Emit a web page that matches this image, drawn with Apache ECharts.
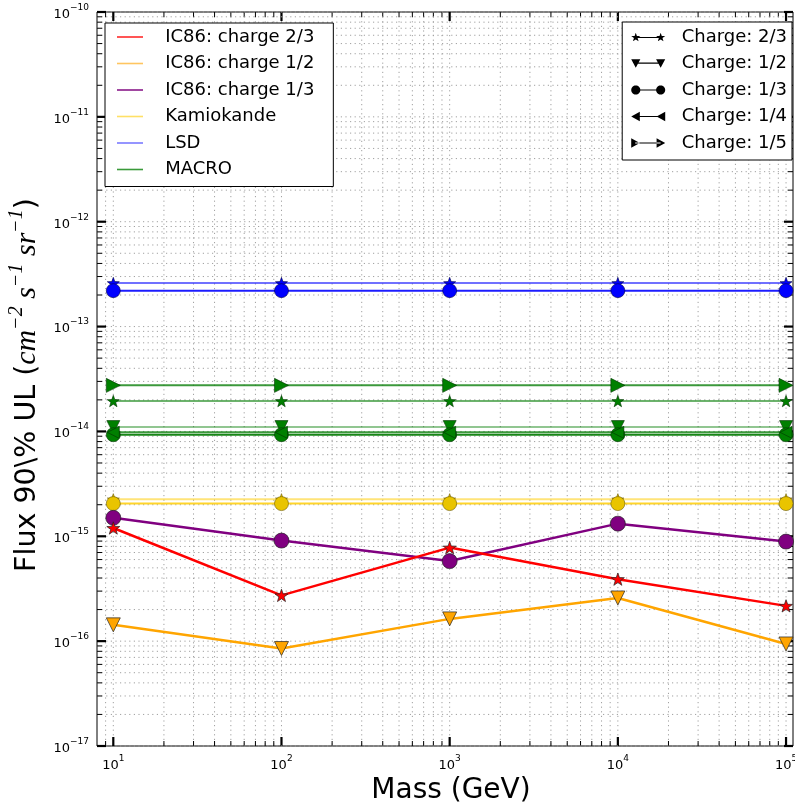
<!DOCTYPE html>
<html>
<head>
<meta charset="utf-8">
<script src="https://cdn.jsdelivr.net/npm/echarts@6/dist/echarts.min.js"></script>
<style>
  html, body { margin: 0; padding: 0; background: #fff; }
  #chart { width: 795px; height: 802px; }
</style>
</head>
<body>
<div id="chart"></div>
<script>
// Monopole-like mass points (GeV)
const MASS = [10, 100, 1000, 10000, 100000];

// IC86 90% upper limits per mass point
const IC86_CHARGE_2_3 = [1.2e-15, 2.73e-16, 7.8e-16, 3.9e-16, 2.17e-16];
const IC86_CHARGE_1_2 = [1.43e-16, 8.5e-17, 1.63e-16, 2.58e-16, 9.4e-17];
const IC86_CHARGE_1_3 = [1.5e-15, 9.1e-16, 5.8e-16, 1.32e-15, 8.9e-16];

// Mass-independent limits of earlier experiments
const KAMIOKANDE_CHARGES = ['2/3', '1/3'];
const KAMIOKANDE_FLUX = [2.25e-15, 2.05e-15];
const LSD_CHARGES = ['2/3', '1/3'];
const LSD_FLUX = [2.6e-13, 2.2e-13];
const MACRO_CHARGES = ['2/3', '1/2', '1/3', '1/4', '1/5'];
const MACRO_FLUX = [1.95e-14, 1.1e-14, 9.3e-15, 9.8e-15, 2.75e-14];

// Legend labels
const CHARGE_LABELS = ['2/3', '1/2', '1/3', '1/4', '1/5'];

// Axis ranges
const X_MIN = 8, X_MAX = 1.1e5;
const Y_MIN = 1e-17, Y_MAX = 1e-10;

// ---- marker shapes -------------------------------------------------------
function starPoints(cx, cy, ro, ri) {
  const pts = [];
  for (let i = 0; i < 10; i++) {
    const r = i % 2 === 0 ? ro : ri;
    const a = -Math.PI / 2 + i * Math.PI / 5;
    pts.push([cx + r * Math.cos(a), cy + r * Math.sin(a)]);
  }
  return pts;
}
function circlePoints(cx, cy, r) {
  const pts = [];
  for (let i = 0; i < 24; i++) {
    const a = i * Math.PI * 2 / 24;
    pts.push([cx + r * Math.cos(a), cy + r * Math.sin(a)]);
  }
  return pts;
}
function poly(pts) {
  return 'M' + pts.map(p => p[0].toFixed(2) + ',' + p[1].toFixed(2)).join('L') + 'Z';
}
const STAR = 'path://' + poly(starPoints(0, 0, 10, 4));

function markerPoints(kind, cx, cy, r) {
  if (kind === '2/3') return starPoints(cx, cy, r * 1.05, r * 0.42);
  if (kind === '1/3') return circlePoints(cx, cy, r);
  if (kind === '1/2') return [[cx - r, cy - r * 0.85], [cx + r, cy - r * 0.85], [cx, cy + r]];
  if (kind === '1/4') return [[cx - r, cy], [cx + r * 0.85, cy - r], [cx + r * 0.85, cy + r]];
  return [[cx + r, cy], [cx - r * 0.85, cy - r], [cx - r * 0.85, cy + r]];
}
function chargeIcon(kind) {
  const r = 4.4;
  const line = 'M4.5,5.45L28.5,5.45L28.5,6.55L4.5,6.55Z';
  return 'path://' + line + poly(markerPoints(kind, 4.5, 6, r)) + poly(markerPoints(kind, 28.5, 6, r));
}
const LINE_ICON = 'path://M0,0H26V1.6H0Z';

const CHARGE_SYMBOL = {
  '2/3': { symbol: STAR, rotate: 0, size: 12 },
  '1/2': { symbol: 'triangle', rotate: 180, size: 13 },
  '1/3': { symbol: 'circle', rotate: 0, size: 14 },
  '1/4': { symbol: 'triangle', rotate: 90, size: 12 },
  '1/5': { symbol: 'triangle', rotate: -90, size: 14 }
};
const LINE_ALPHA = { '2/3': 0.6, '1/2': 0.45, '1/3': 0.95, '1/4': 0.8, '1/5': 0.8 };

// ---- series ------------------------------------------------------------
function ic86Series(name, values, color, charge) {
  const s = CHARGE_SYMBOL[charge];
  return {
    type: 'line', name: name,
    data: MASS.map((m, i) => [m, values[i]]),
    symbol: s.symbol, symbolRotate: s.rotate, symbolSize: s.size + 1, symbolKeepAspect: true,
    lineStyle: { color: color, width: 2.5 },
    itemStyle: { color: color, borderColor: '#222', borderWidth: 0.7 },
    z: 4, silent: true, animation: false
  };
}

const EXPERIMENTS = [
  { name: 'Kamiokande', charges: KAMIOKANDE_CHARGES, flux: KAMIOKANDE_FLUX, line: '#ffd21f', marker: '#e9c400', edge: '#6b5a00' },
  { name: 'LSD', charges: LSD_CHARGES, flux: LSD_FLUX, line: '#1010ff', marker: '#0000ff', edge: '#000044' },
  { name: 'MACRO', charges: MACRO_CHARGES, flux: MACRO_FLUX, line: '#0b800b', marker: '#008000', edge: '#003300' }
];

const series = [];

// grid lines and inward ticks on all four sides
const X_MAJOR = MASS.slice();
const Y_MAJOR = [];
for (let e = -17; e <= -10; e++) Y_MAJOR.push(Math.pow(10, e));
const X_MINOR = [];
for (let e = 0; e <= 4; e++) for (let k = 2; k <= 9; k++) {
  const v = k * Math.pow(10, e);
  if (v > X_MIN && v < X_MAX) X_MINOR.push(v);
}
const Y_MINOR = [];
for (let e = -17; e <= -11; e++) for (let k = 2; k <= 9; k++) Y_MINOR.push(k * Math.pow(10, e));

const gridItems = []
  .concat(X_MINOR.map(v => [v, 1e-13, 0]))
  .concat(X_MAJOR.map(v => [v, 1e-13, 1]))
  .concat(Y_MINOR.map(v => [10, v, 2]))
  .concat(Y_MAJOR.map(v => [10, v, 3]));

const GRID_STYLE = { stroke: '#a0a0a0', lineWidth: 1, lineDash: [1.2, 3.4] };

series.push({
  type: 'custom', name: 'grid', silent: true, animation: false, z: 1, clip: false,
  data: gridItems,
  encode: { x: 0, y: 1 },
  renderItem: function (params, api) {
    const cs = params.coordSys;
    const kind = api.value(2);
    const p = api.coord([api.value(0), api.value(1)]);
    const major = kind === 1 || kind === 3;
    const len = major ? 9 : 5;
    const tick = { stroke: '#000', lineWidth: major ? 2.2 : 1 };
    const ch = [];
    if (kind < 2) {
      const x = p[0], y0 = cs.y, y1 = cs.y + cs.height;
      ch.push({ type: 'line', shape: { x1: x, y1: y0, x2: x, y2: y1 }, style: GRID_STYLE });
      ch.push({ type: 'line', shape: { x1: x, y1: y1, x2: x, y2: y1 - len }, style: tick });
      ch.push({ type: 'line', shape: { x1: x, y1: y0, x2: x, y2: y0 + len }, style: tick });
    } else {
      const y = p[1], x0 = cs.x, x1 = cs.x + cs.width;
      ch.push({ type: 'line', shape: { x1: x0, y1: y, x2: x1, y2: y }, style: GRID_STYLE });
      ch.push({ type: 'line', shape: { x1: x0, y1: y, x2: x0 + len, y2: y }, style: tick });
      ch.push({ type: 'line', shape: { x1: x1, y1: y, x2: x1 - len, y2: y }, style: tick });
    }
    return { type: 'group', children: ch };
  }
});

EXPERIMENTS.forEach(ex => {
  ex.charges.forEach((c, i) => {
    const s = CHARGE_SYMBOL[c];
    series.push({
      type: 'line', name: ex.name,
      data: MASS.map(m => [m, ex.flux[i]]),
      symbol: s.symbol, symbolRotate: s.rotate, symbolSize: s.size, symbolKeepAspect: true,
      lineStyle: { color: ex.line, width: 2, opacity: LINE_ALPHA[c] },
      itemStyle: { color: ex.marker, borderColor: ex.edge, borderWidth: 0.6 },
      z: 3, silent: true, animation: false
    });
  });
});

series.push(ic86Series('IC86: charge 1/2', IC86_CHARGE_1_2, '#ffa500', '1/2'));
series.push(ic86Series('IC86: charge 1/3', IC86_CHARGE_1_3, '#800080', '1/3'));
series.push(ic86Series('IC86: charge 2/3', IC86_CHARGE_2_3, '#ff0000', '2/3'));

// empty series that only carry the charge legend entries
CHARGE_LABELS.forEach(c => {
  series.push({ type: 'line', name: 'Charge: ' + c, data: [], itemStyle: { color: '#000' } });
});

// ---- axes ----------------------------------------------------------------
function powLabel(v) {
  const e = Math.log10(v);
  const n = Math.round(e);
  if (Math.abs(e - n) > 1e-6) return '';
  return '{b|10}{s|' + (n < 0 ? '\u2212' + (-n) : n) + '}';
}
const TICK_RICH = {
  b: { fontSize: 13, fontFamily: 'DejaVu Sans', color: '#000', lineHeight: 18, verticalAlign: 'bottom' },
  s: { fontSize: 9, fontFamily: 'DejaVu Sans', color: '#000', lineHeight: 11, verticalAlign: 'top' }
};

const LEFT_LEGEND = [
  { name: 'IC86: charge 2/3', color: '#ff2a2a' },
  { name: 'IC86: charge 1/2', color: '#ffc560' },
  { name: 'IC86: charge 1/3', color: '#8a1a8a' },
  { name: 'Kamiokande', color: '#ffe066' },
  { name: 'LSD', color: '#7b7bff' },
  { name: 'MACRO', color: '#3a9a3a' }
];

const legendCommon = {
  orient: 'vertical', selectedMode: false, backgroundColor: '#fff',
  borderColor: '#000', borderWidth: 1, borderRadius: 0,
  itemGap: 8.5, z: 10,
  textStyle: { fontSize: 18, fontFamily: 'DejaVu Sans', color: '#000', lineHeight: 18 }
};

const option = {
  animation: false,
  backgroundColor: '#fff',
  grid: {
    left: 97, right: 2, top: 12, bottom: 56, outerBoundsMode: 'none', containLabel: false,
    show: true, borderColor: '#000', borderWidth: 1, backgroundColor: 'transparent'
  },
  xAxis: {
    type: 'log', logBase: 10, min: X_MIN, max: X_MAX,
    axisLine: { show: false }, axisTick: { show: false }, splitLine: { show: false },
    axisLabel: { formatter: powLabel, rich: TICK_RICH, margin: 8, showMinLabel: true, showMaxLabel: true },
    name: 'Mass (GeV)', nameLocation: 'middle', nameGap: 19,
    nameTextStyle: { fontSize: 28, fontFamily: 'DejaVu Sans', color: '#000', padding: [0, 0, 0, 12] }
  },
  yAxis: {
    type: 'log', logBase: 10, min: Y_MIN, max: Y_MAX,
    axisLine: { show: false }, axisTick: { show: false }, splitLine: { show: false },
    axisLabel: { formatter: powLabel, rich: TICK_RICH, margin: 8 },
    name: '{t|Flux 90\\% UL (}{m|cm}{u|\u22122}{m| s}{u|\u22121}{m| sr}{u|\u22121}{t|)}',
    nameLocation: 'middle', nameGap: 46, nameRotate: 90,
    nameTextStyle: {
      padding: [0, 12, 0, 0],
      rich: {
        t: { fontSize: 28.5, fontFamily: 'DejaVu Sans', color: '#000', lineHeight: 36, verticalAlign: 'bottom' },
        m: { fontSize: 30, fontFamily: 'Liberation Serif', fontStyle: 'italic', color: '#000', lineHeight: 36, verticalAlign: 'bottom' },
        u: { fontSize: 20, fontFamily: 'Liberation Serif', fontStyle: 'italic', color: '#000', lineHeight: 22, verticalAlign: 'top' }
      }
    }
  },
  legend: [
    Object.assign({}, legendCommon, {
      left: 105, top: 23, padding: [5, 19, 8, 12],
      itemWidth: 26, itemHeight: 14,
      formatter: n => '   ' + n,
      data: LEFT_LEGEND.map(d => ({ name: d.name, icon: LINE_ICON, itemStyle: { color: d.color, borderWidth: 0 } }))
    }),
    Object.assign({}, legendCommon, {
      right: 3, top: 22, padding: [6, 5, 8, 9],
      itemWidth: 34, itemHeight: 14,
      formatter: n => '  ' + n,
      data: CHARGE_LABELS.map(c => ({ name: 'Charge: ' + c, icon: chargeIcon(c), itemStyle: { color: '#000', borderWidth: 0 } }))
    })
  ],
  series: series
};

const chart = echarts.init(document.getElementById('chart'), null, { renderer: 'canvas' });
chart.setOption(option);
</script>
</body>
</html>
